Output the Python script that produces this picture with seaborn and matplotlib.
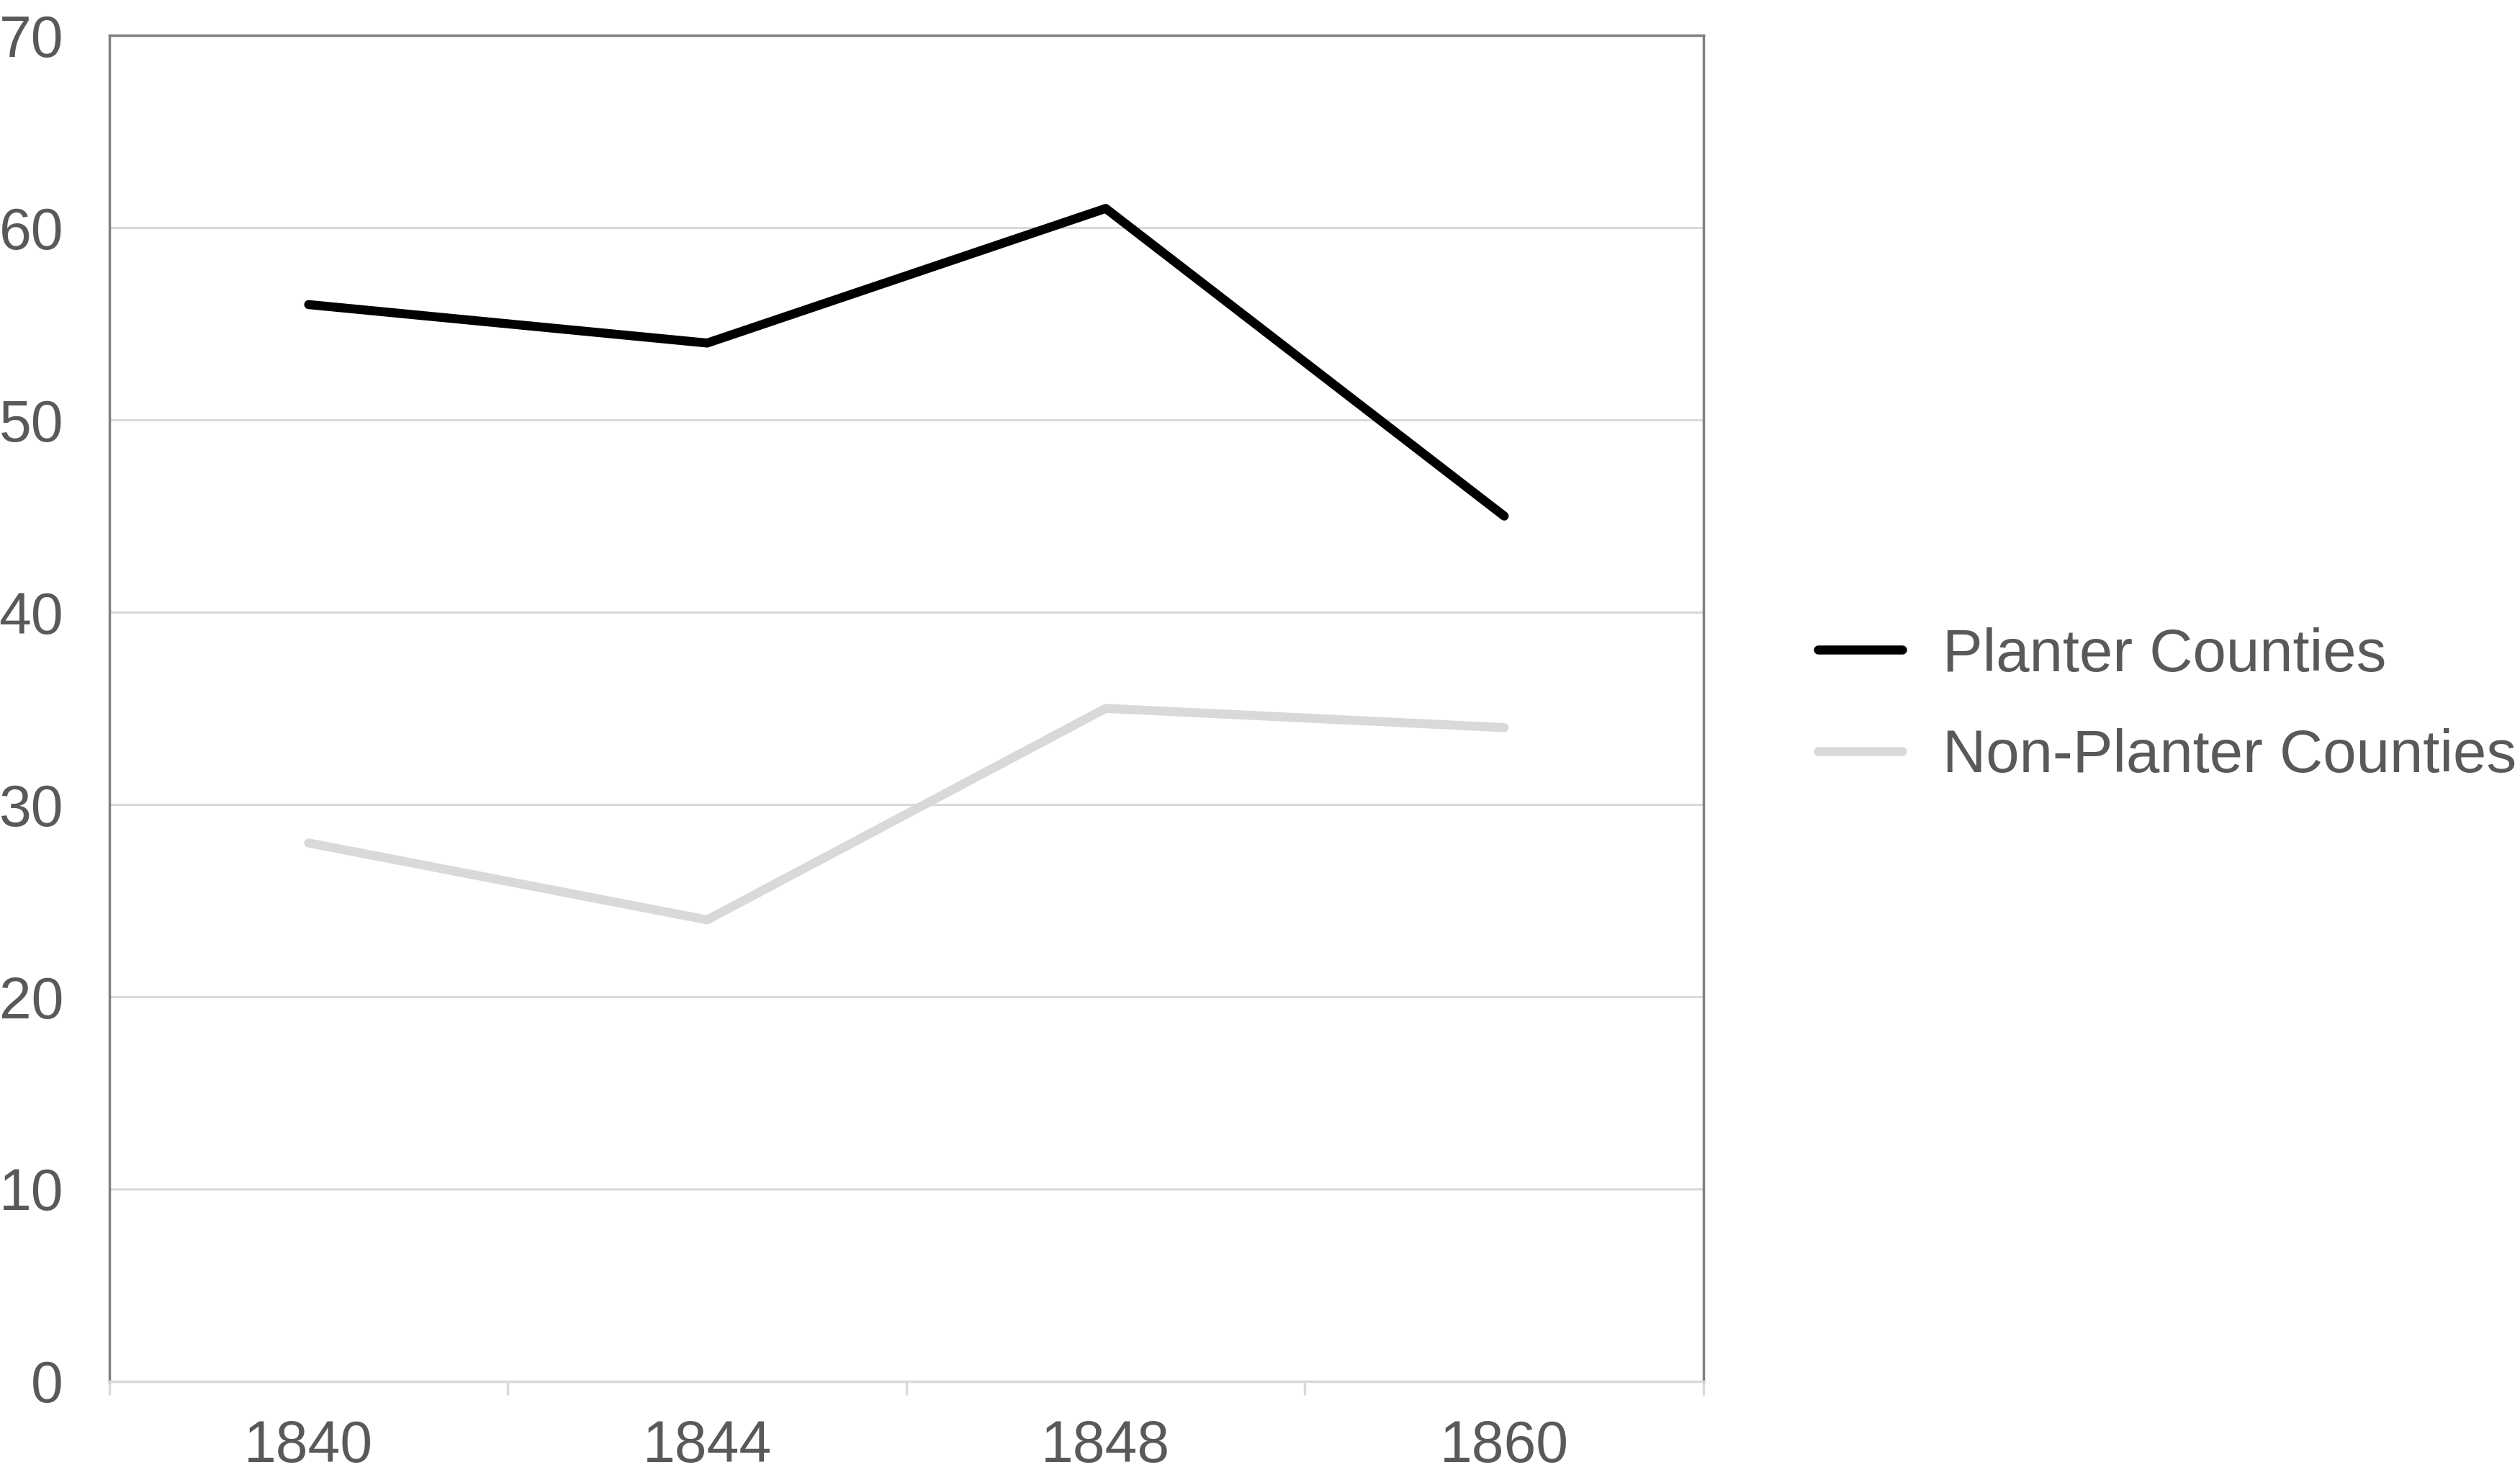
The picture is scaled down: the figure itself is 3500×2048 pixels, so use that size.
import matplotlib
matplotlib.use("Agg")
import matplotlib.pyplot as plt
import seaborn as sns
import pandas as pd
from matplotlib.ticker import FixedLocator

years = ["1840", "1844", "1848", "1860"]
planter = [56, 54, 61, 45]
non_planter = [28, 24, 35, 34]
series_names = ["Planter Counties", "Non-Planter Counties"]
y_ticks = [0, 10, 20, 30, 40, 50, 60, 70]

df = pd.DataFrame({
    "year": years * 2,
    "value": planter + non_planter,
    "series": [series_names[0]] * 4 + [series_names[1]] * 4,
})

sns.set_theme(style="white")
plt.rcParams["font.family"] = ["Liberation Sans", "DejaVu Sans"]

fig = plt.figure(figsize=(35, 20.48), dpi=100)
ax = fig.add_axes([0.0434, 0.0635, 0.6326, 0.9125])

sns.lineplot(data=df, x="year", y="value", hue="series",
             palette={series_names[0]: "#000000", series_names[1]: "#d9d9d9"},
             linewidth=9, ax=ax, sort=False, legend=True)
for ln in ax.get_lines():
    ln.set_solid_capstyle("round")
    ln.set_solid_joinstyle("round")

ax.set_xlim(-0.5, 3.5)
ax.set_ylim(0, 70)
ax.set_yticks(y_ticks)
ax.set_xlabel("")
ax.set_ylabel("")
ax.grid(axis="y", color="#d9d9d9", linewidth=2.2)
ax.set_axisbelow(True)

for s in ["left", "top", "right"]:
    ax.spines[s].set_color("#808080")
    ax.spines[s].set_linewidth(2.5)
ax.spines["bottom"].set_color("#d9d9d9")
ax.spines["bottom"].set_linewidth(2.5)

ax.tick_params(axis="y", length=0, pad=46, labelsize=58, labelcolor="#595959")
ax.tick_params(axis="x", which="major", length=0, pad=38, labelsize=58, labelcolor="#595959")
ax.xaxis.set_minor_locator(FixedLocator([-0.5, 0.5, 1.5, 2.5, 3.5]))
ax.tick_params(axis="x", which="minor", bottom=True, length=14, width=2.5,
               color="#d9d9d9", direction="out")

handles, labels = ax.get_legend_handles_labels()
leg = ax.legend(handles, labels, loc="center left", bbox_to_anchor=(1.038, 0.502),
                frameon=False, fontsize=60, labelcolor="#595959",
                handlelength=1.4, handletextpad=0.67, labelspacing=0.75)
for line in leg.get_lines():
    line.set_linewidth(9)
    line.set_solid_capstyle("round")

fig.savefig("out.png", dpi=100, facecolor="white")
